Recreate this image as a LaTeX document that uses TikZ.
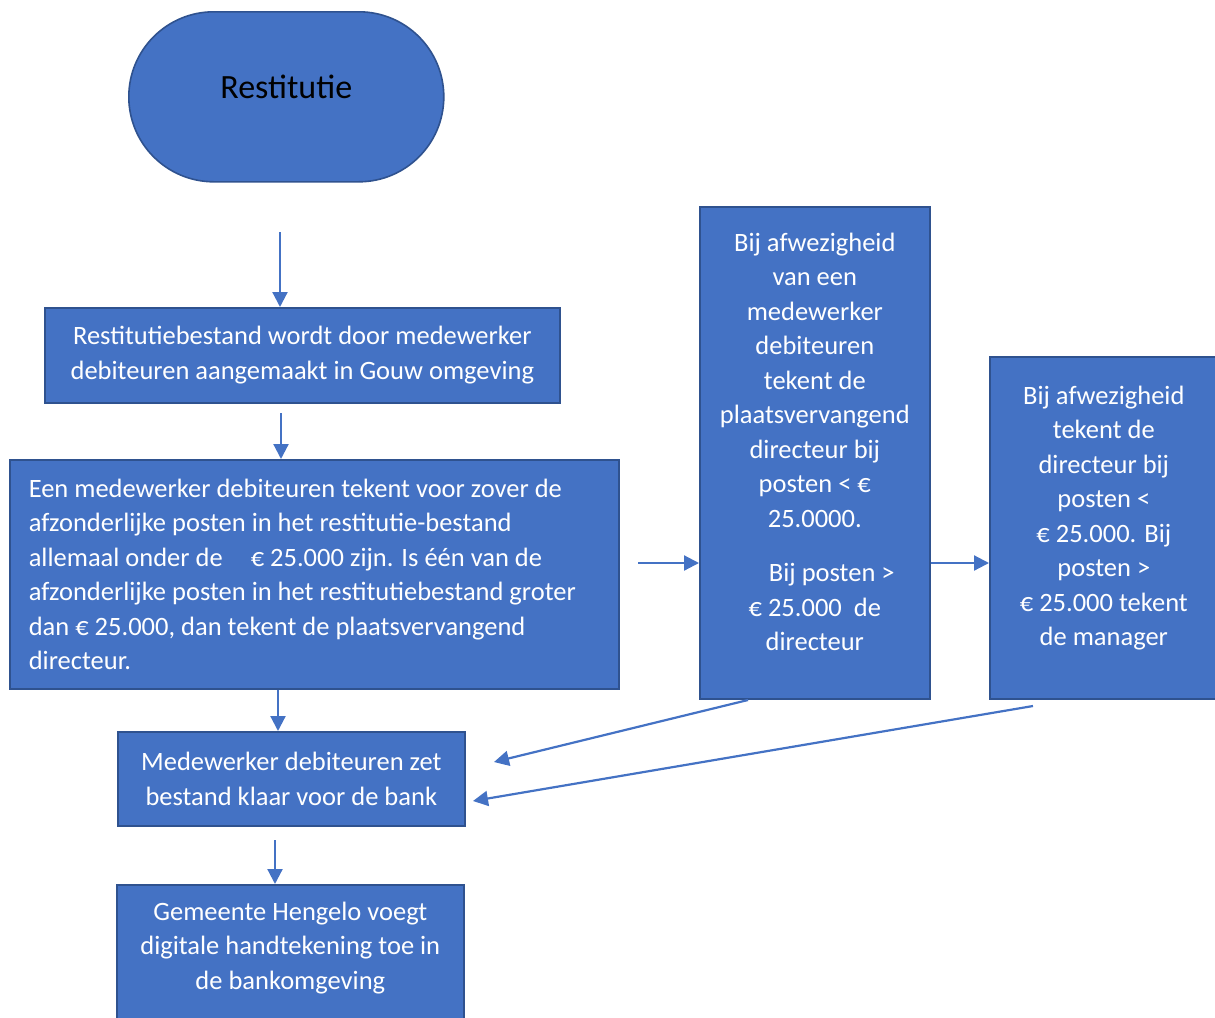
\documentclass[tikz,border=0pt]{standalone}
\usepackage{fontspec}
\setmainfont{Carlito}
\usepackage{tikz}
\usetikzlibrary{arrows.meta,calc}
\definecolor{boxblue}{HTML}{4472C4}
\definecolor{boxline}{HTML}{2F528F}
\tikzset{
  stepbox/.style={draw=boxline, line width=1.6pt, fill=boxblue, text=white,
    anchor=north west, inner sep=0pt,
    font=\fontsize{26.5}{34.5}\selectfont},
  flow/.style={draw=boxblue, line width=2.2pt,
    -{Triangle[width=15pt,length=15pt]}}
}
\begin{document}
\begin{tikzpicture}[x=1pt,y=-1pt]
\useasboundingbox (0,0) rectangle (1215,1017);
\clip (0,0) rectangle (1215,1017);
\node[draw=boxline, line width=1.6pt, fill=boxblue, rounded corners=85pt,
  minimum width=315pt, minimum height=170pt, anchor=north west,
  font=\fontsize{34}{40}\selectfont] (start) at (128,11) {\raisebox{20pt}{Restitutie}};
\node[stepbox, minimum width=515pt, minimum height=95pt, align=flush center] (aanmaak) at (44,307)
  {Restitutiebestand wordt door medewerker\\debiteuren aangemaakt in Gouw omgeving};
\node[stepbox, minimum width=609pt, minimum height=229pt, text width=571pt, inner xsep=19pt, align=flush left] (teken) at (9,459)
  {Een medewerker debiteuren tekent voor zover de\\
   afzonderlijke posten in het restitutie-bestand\\
   allemaal onder de\hspace{22pt} € 25.000 zijn. Is één van de\\
   afzonderlijke posten in het restitutiebestand groter\\
   dan € 25.000, dan tekent de plaatsvervangend\\
   directeur.};
\node[stepbox, minimum width=230pt, minimum height=492pt, align=flush center] (plaatsv) at (699,206)
  {Bij afwezigheid\\van een\\medewerker\\debiteuren\\tekent de\\plaatsvervangend\\directeur bij\\posten < €\\25.0000.\\[20pt]
   \hspace{34pt}Bij posten >\\€ 25.000\ \ de\\directeur\\[-12.5pt]};
\node[stepbox, minimum width=240pt, minimum height=342pt, align=flush center] (direct) at (989,356)
  {\hspace*{-12pt}Bij afwezigheid\\\hspace*{-12pt}tekent de\\\hspace*{-12pt}directeur bij\\\hspace*{-12pt}posten <\\\hspace*{-12pt}€ 25.000. Bij\\\hspace*{-12pt}posten >\\\hspace*{-12pt}€ 25.000 tekent\\\hspace*{-12pt}de manager\\[-10.5pt]};
\node[stepbox, minimum width=347pt, minimum height=94pt, align=flush center] (klaar) at (117,731)
  {Medewerker debiteuren zet\\bestand klaar voor de bank};
\node[stepbox, minimum width=347pt, minimum height=160pt, align=flush center] (hengelo) at (116,884)
  {Gemeente Hengelo voegt\\digitale handtekening toe in\\de bankomgeving\\[4pt]};
\coordinate (a1) at (280,232);
\coordinate (a2) at (281,413);
\coordinate (a3) at (638,563);
\coordinate (a4) at (275,840);
\coordinate (d1) at (748,700);
\coordinate (e1) at (494,762);
\coordinate (d2) at (1033,706);
\coordinate (e2) at (473,801);
\draw[flow] (a1) -- (a1 |- aanmaak.north);
\draw[flow] (a2) -- (a2 |- teken.north);
\draw[flow] (a3) -- (a3 -| plaatsv.west);
\draw[flow] (a3 -| plaatsv.east) -- (a3 -| direct.west);
\draw[flow] (teken.south -| 278,0) -- (klaar.north -| 278,0);
\draw[flow] (d1) -- (e1);
\draw[flow] (d2) -- (e2);
\draw[flow] (a4) -- (a4 |- hengelo.north);
\end{tikzpicture}
\end{document}
